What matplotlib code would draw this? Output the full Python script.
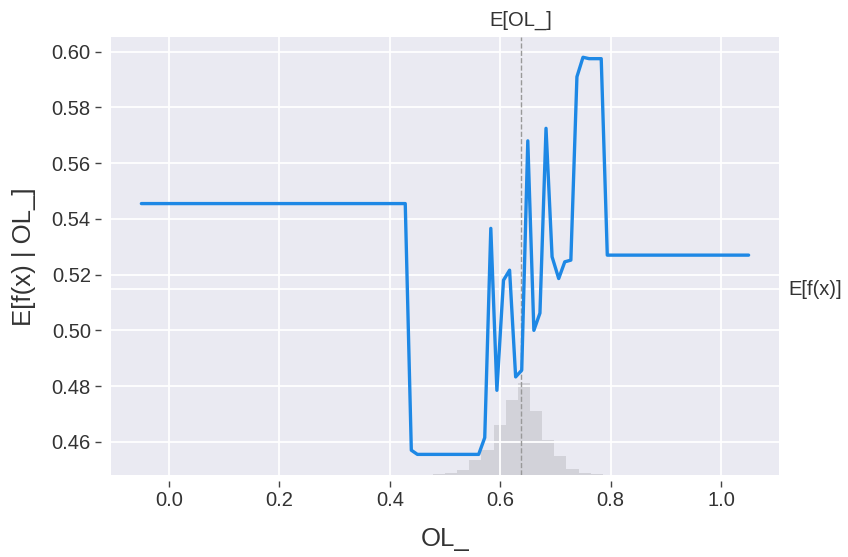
import numpy as np
import matplotlib
matplotlib.use("Agg")
import matplotlib.pyplot as plt
import matplotlib.transforms as mtransforms

plt.rcParams["font.family"] = ["Liberation Sans", "DejaVu Sans"]

# Partial dependence of the model output on feature OL_
feature_name = "OL_"
ol_values = [-0.05, 0.428, 0.439, 0.45, 0.561, 0.572, 0.583, 0.594, 0.606,
             0.617, 0.628, 0.639, 0.65, 0.661, 0.672, 0.683, 0.694, 0.706,
             0.717, 0.728, 0.739, 0.75, 0.761, 0.772, 0.783, 0.794, 1.05]
expected_pred = [0.5455, 0.5455, 0.457, 0.4555, 0.4555, 0.4615, 0.5366, 0.4785,
                 0.518, 0.5216, 0.4833, 0.4857, 0.568, 0.500, 0.5062, 0.5725,
                 0.5264, 0.5186, 0.5246, 0.5252, 0.591, 0.598, 0.5975, 0.5975,
                 0.5975, 0.527, 0.527]

model_expected_value = 0.5148   # E[f(x)]
feature_expected_value = 0.638  # E[OL_]

# Feature distribution: 50 bins over the plotted range, non-empty bins only
hist_range = (-0.05, 1.05)
hist_first_bin = 24
hist_counts = [1, 2, 5, 15, 25, 50, 75, 92, 64, 35, 19, 6, 2, 1]
hist_ymax = 437

x_ticks = [0.0, 0.2, 0.4, 0.6, 0.8, 1.0]
y_ticks = [0.46, 0.48, 0.50, 0.52, 0.54, 0.56, 0.58, 0.60]

BG = "#EAEAF2"
TXT = "#333333"
BLUE = "#1E88E5"

fig = plt.figure(figsize=(8.48, 5.57), dpi=100)
ax = fig.add_axes([0.1309, 0.1472, 0.7877, 0.7855])

# histogram lives on a twin axis underneath the curve
ax_hist = ax.twinx()
ax.set_zorder(ax_hist.get_zorder() + 1)
ax.patch.set_visible(False)
ax_hist.patch.set_visible(True)
ax_hist.patch.set_facecolor(BG)
edges = np.linspace(hist_range[0], hist_range[1], 51)
width = edges[1] - edges[0]
lefts = edges[hist_first_bin:hist_first_bin + len(hist_counts)]
ax_hist.bar(lefts, hist_counts, width=width, align="edge",
            color="black", alpha=0.1, linewidth=0)
ax_hist.set_ylim(0, hist_ymax)
ax_hist.set_yticks([])
ax_hist.grid(False)
for s in ax_hist.spines.values():
    s.set_visible(False)

# grid
ax.set_axisbelow(True)
ax.grid(True, color="white", linewidth=1.3)

ax.plot(ol_values, expected_pred, color=BLUE, linewidth=2.4, zorder=3,
        solid_joinstyle="round", solid_capstyle="round")

ax.axhline(model_expected_value, color="white", linewidth=1.3, zorder=1)
ax.axvline(feature_expected_value, color="#999999", linestyle="--",
           linewidth=1, zorder=2)

ax.set_xlim(-0.105, 1.105)
ax.set_xticks(x_ticks)
ax.set_xticklabels([f"{v:.1f}" for v in x_ticks])
ax.set_yticks(y_ticks)
ax.set_yticklabels([f"{v:.2f}" for v in y_ticks])
ax.set_ylim(0.4481, 0.6051)

for s in ax.spines.values():
    s.set_visible(False)
ax.spines["left"].set_position(("outward", 7))
ax.spines["bottom"].set_position(("outward", 4))
ax.tick_params(axis="both", labelsize=14.5, colors="#444444", labelcolor=TXT,
               length=4, width=1, pad=3.5, direction="out")

ax.set_xlabel(feature_name, fontsize=18.5, color=TXT, labelpad=12)
ax.set_ylabel(f"E[f(x) | {feature_name}]", fontsize=18.5, color=TXT,
              labelpad=11)

# expectation labels beside the axes
trans_y = mtransforms.blended_transform_factory(ax.transAxes, ax.transData)
ax.text(1.0, model_expected_value, "E[f(x)]",
        transform=trans_y + mtransforms.ScaledTranslation(7 / 72, 0, fig.dpi_scale_trans),
        fontsize=14.5, color=TXT, ha="left", va="center", clip_on=False)
trans_x = mtransforms.blended_transform_factory(ax.transData, ax.transAxes)
ax.text(feature_expected_value, 1.0, f"E[{feature_name}]",
        transform=trans_x + mtransforms.ScaledTranslation(0, 5.5 / 72, fig.dpi_scale_trans),
        fontsize=14.5, color=TXT, ha="center", va="bottom", clip_on=False)

fig.savefig("out.png", dpi=100)
